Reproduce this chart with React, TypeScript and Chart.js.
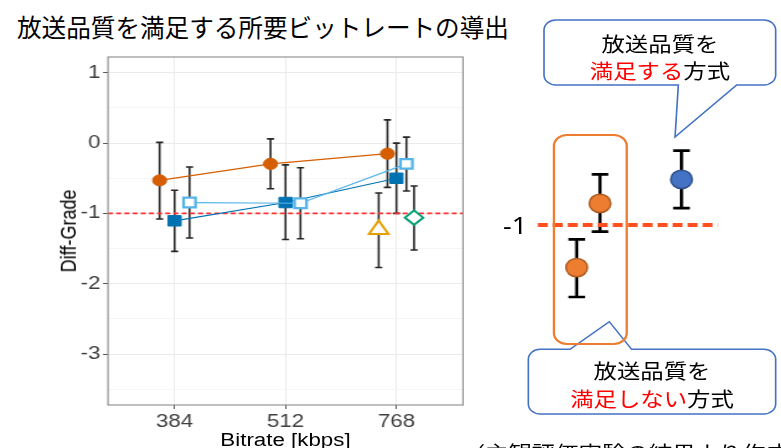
import React, { useEffect, useRef } from 'react';
import { Chart, registerables } from 'chart.js';

Chart.register(...registerables);

// ---------- data: main chart ----------
const CATEGORIES = ['384', '512', '768'];
const Y_TICKS = [-3.5, -3, -2.5, -2, -1.5, -1, -0.5, 0, 0.5, 1];
const Y_MIN = -3.725;
const Y_MAX = 1.225;
const THRESHOLD = -1;

// orange filled circles
const CIRCLE_MEAN = [-0.53, -0.295, -0.15];
const CIRCLE_LO = [-1.08, -0.65, -0.63];
const CIRCLE_HI = [0.01, 0.06, 0.33];
// dark blue filled squares
const FSQUARE_MEAN = [-1.105, -0.845, -0.5];
const FSQUARE_LO = [-1.54, -1.37, -1.0];
const FSQUARE_HI = [-0.67, -0.31, 0.0];
// light blue open squares
const OSQUARE_MEAN = [-0.845, -0.855, -0.295];
const OSQUARE_LO = [-1.35, -1.36, -0.68];
const OSQUARE_HI = [-0.34, -0.35, 0.085];
// yellow open triangle (768 only)
const TRIANGLE_MEAN = [null, null, -1.23];
const TRIANGLE_LO = [null, null, -1.77];
const TRIANGLE_HI = [null, null, -0.71];
// green open diamond (768 only)
const DIAMOND_MEAN = [null, null, -1.06];
const DIAMOND_LO = [null, null, -1.52];
const DIAMOND_HI = [null, null, -0.61];

// ---------- data: schematic ----------
const SCH_X = [1, 2, 5.5];
const SCH_MEAN = [-1.71, -0.64, -0.24];
const SCH_LO = [-2.2, -1.11, -0.72];
const SCH_HI = [-1.24, -0.155, 0.24];
const SCH_OK = [false, false, true];
const SCH_LINE_X = [-0.67, 7.06];

// ---------- layout / style (not data) ----------
const DODGE: Record<string, number[]> = {
  circle: [-0.135, -0.135, -0.081],
  fsquare: [0, 0, 0],
  osquare: [0.135, 0.135, 0.09],
  triangle: [0, 0, -0.16],
  diamond: [0, 0, 0.159],
};
const S1 = 1.24; // horizontal stretch of the chart picture
const S2 = 1.17; // horizontal stretch of the schematic
const W1 = 390;
const AREA = { left: 108 / S1, right: 463 / S1, top: 57, bottom: 405 };
const Y_W = 40;
const X_H = 30;
const TICK_FONT = "'Liberation Sans', Arial, sans-serif";
const JP_FONT = "'Noto Sans CJK JP', 'Noto Sans', sans-serif";

function pts(mean: (number | null)[], lo: (number | null)[], hi: (number | null)[], dodge: number[]) {
  const out: any[] = [];
  CATEGORIES.forEach((_, i) => {
    if (mean[i] == null) return;
    out.push({ x: i + 1 + dodge[i], y: mean[i], lo: lo[i], hi: hi[i] });
  });
  return out;
}

const errorBarPlugin = {
  id: 'errbars',
  beforeDatasetsDraw(chart: any) {
    const { ctx } = chart;
    chart.data.datasets.forEach((ds: any, i: number) => {
      if (!ds.errorBars) return;
      const meta = chart.getDatasetMeta(i);
      const xs = chart.scales[meta.xAxisID];
      const ys = chart.scales[meta.yAxisID];
      const eb = ds.errorBars;
      ctx.save();
      ctx.strokeStyle = eb.color;
      ctx.lineWidth = eb.width;
      ds.data.forEach((p: any) => {
        const x = xs.getPixelForValue(p.x);
        const y1 = ys.getPixelForValue(p.lo);
        const y2 = ys.getPixelForValue(p.hi);
        ctx.beginPath();
        ctx.moveTo(x, y1);
        ctx.lineTo(x, y2);
        ctx.moveTo(x - eb.cap, y1);
        ctx.lineTo(x + eb.cap, y1);
        ctx.moveTo(x - eb.cap, y2);
        ctx.lineTo(x + eb.cap, y2);
        ctx.stroke();
      });
      ctx.restore();
    });
  },
};

const borderPlugin = {
  id: 'panelBorder',
  afterDatasetsDraw(chart: any) {
    const { ctx, chartArea: a } = chart;
    ctx.save();
    ctx.strokeStyle = '#8a8a8a';
    ctx.lineWidth = 1.1;
    ctx.strokeRect(a.left, a.top, a.right - a.left, a.bottom - a.top);
    ctx.restore();
  },
};

export default function App() {
  const mainRef = useRef<HTMLCanvasElement>(null);
  const schRef = useRef<HTMLCanvasElement>(null);

  useEffect(() => {
    const eb = { color: '#262626', width: 1.6, cap: 2.9 };
    const c1 = new Chart(mainRef.current as HTMLCanvasElement, {
      type: 'scatter',
      data: {
        datasets: [
          {
            data: pts(DIAMOND_MEAN, DIAMOND_LO, DIAMOND_HI, DODGE.diamond),
            pointStyle: 'rectRot', pointRadius: 7.3, borderWidth: 2,
            borderColor: '#009E73', backgroundColor: '#ffffff', showLine: false,
            errorBars: eb,
          } as any,
          {
            data: pts(TRIANGLE_MEAN, TRIANGLE_LO, TRIANGLE_HI, DODGE.triangle),
            pointStyle: 'triangle', pointRadius: 9, borderWidth: 2,
            borderColor: '#E69F00', backgroundColor: '#ffffff', showLine: false,
            errorBars: eb,
          } as any,
          {
            data: pts(OSQUARE_MEAN, OSQUARE_LO, OSQUARE_HI, DODGE.osquare),
            pointStyle: 'rect', pointRadius: 6.8, pointBorderWidth: 2.3,
            pointBorderColor: '#56B4E9', pointBackgroundColor: '#ffffff',
            borderColor: '#56B4E9', borderWidth: 1.2, showLine: true,
            errorBars: eb,
          } as any,
          {
            data: pts(FSQUARE_MEAN, FSQUARE_LO, FSQUARE_HI, DODGE.fsquare),
            pointStyle: 'rect', pointRadius: 7.4, pointBorderWidth: 1,
            pointBorderColor: '#0072B2', pointBackgroundColor: '#0072B2',
            borderColor: '#0072B2', borderWidth: 1.2, showLine: true,
            errorBars: eb,
          } as any,
          {
            data: pts(CIRCLE_MEAN, CIRCLE_LO, CIRCLE_HI, DODGE.circle),
            pointStyle: 'circle', pointRadius: 5.6, pointBorderWidth: 1,
            pointBorderColor: '#D55E00', pointBackgroundColor: '#D55E00',
            borderColor: '#D55E00', borderWidth: 1.2, showLine: true,
            errorBars: eb,
          } as any,
          {
            data: [{ x: 0.4, y: THRESHOLD }, { x: CATEGORIES.length + 0.6, y: THRESHOLD }],
            pointRadius: 0, showLine: true, borderColor: '#FF2E2E',
            borderWidth: 1.7, borderDash: [4, 2.6],
          } as any,
        ],
      },
      options: {
        animation: false,
        responsive: false,
        devicePixelRatio: 1,
        layout: {
          autoPadding: false,
          padding: {
            left: AREA.left - Y_W,
            right: W1 - AREA.right,
            top: AREA.top,
            bottom: 448 - AREA.bottom - X_H,
          },
        },
        plugins: { legend: { display: false }, tooltip: { enabled: false } },
        scales: {
          x: {
            type: 'linear',
            min: 0.4,
            max: CATEGORIES.length + 0.6,
            afterBuildTicks: (s: any) => {
              s.ticks = CATEGORIES.map((_, i) => ({ value: i + 1 }));
            },
            afterFit: (s: any) => { s.height = X_H; },
            ticks: {
              autoSkip: false, maxRotation: 0, padding: 2,
              color: '#3F3F3F', font: { family: TICK_FONT, size: 18 },
              callback: (v: any) => CATEGORIES[Math.round(v) - 1] ?? '',
            },
            grid: { color: '#EBEBEB', lineWidth: 1, tickColor: '#555', tickLength: 4 },
            border: { display: false },
          },
          y: {
            type: 'linear',
            min: Y_MIN,
            max: Y_MAX,
            afterBuildTicks: (s: any) => {
              s.ticks = Y_TICKS.map((v) => ({ value: v }));
            },
            afterFit: (s: any) => { s.width = Y_W; },
            ticks: {
              autoSkip: false, padding: 2,
              color: '#3F3F3F', font: { family: TICK_FONT, size: 18 },
              callback: (v: any) => (Number.isInteger(v) ? String(v) : ''),
            },
            grid: {
              color: (c: any) => (Number.isInteger(c.tick?.value) ? '#EBEBEB' : '#F2F2F2'),
              lineWidth: (c: any) => (Number.isInteger(c.tick?.value) ? 1 : 0.8),
              tickColor: (c: any) => (Number.isInteger(c.tick?.value) ? '#555' : 'rgba(0,0,0,0)'),
              tickLength: 4,
            },
            border: { display: false },
          },
        },
      } as any,
      plugins: [errorBarPlugin, borderPlugin],
    });

    const schPts = (ok: boolean) =>
      SCH_X.map((x, i) => ({ x, y: SCH_MEAN[i], lo: SCH_LO[i], hi: SCH_HI[i], ok: SCH_OK[i] })).filter(
        (p) => p.ok === ok
      );
    const seb = { color: '#000000', width: 2.7, cap: 7.1 };
    const c2 = new Chart(schRef.current as HTMLCanvasElement, {
      type: 'scatter',
      data: {
        datasets: [
          {
            data: schPts(true), pointStyle: 'circle', pointRadius: 9.2, borderWidth: 1.5,
            backgroundColor: '#4472C4', borderColor: '#2F528F', showLine: false, errorBars: seb,
          } as any,
          {
            data: schPts(false), pointStyle: 'circle', pointRadius: 9.2, borderWidth: 1.5,
            backgroundColor: '#ED7D31', borderColor: '#AE5A21', showLine: false, errorBars: seb,
          } as any,
          {
            data: SCH_LINE_X.map((x) => ({ x, y: THRESHOLD })), pointRadius: 0, showLine: true,
            borderColor: '#FF4F1F', borderWidth: 4, borderDash: [8.5, 4.3],
          } as any,
        ],
      },
      options: {
        animation: false,
        responsive: false,
        devicePixelRatio: 1,
        layout: { autoPadding: false, padding: 0 },
        plugins: { legend: { display: false }, tooltip: { enabled: false } },
        scales: {
          x: { type: 'linear', display: false, min: -2.86, max: 9.7 },
          y: { type: 'linear', display: false, min: -2.75, max: 1.083 },
        },
      } as any,
      plugins: [errorBarPlugin],
    });

    return () => {
      c1.destroy();
      c2.destroy();
    };
  }, []);

  const r = 10;
  const top = { x1: 88.9, x2: 286.9, y1: 20, y2: 85 };
  const topPath =
    `M ${top.x1 + r} ${top.y1} H ${top.x2 - r} A ${r} ${r} 0 0 1 ${top.x2} ${top.y1 + r} ` +
    `V ${top.y2 - r} A ${r} ${r} 0 0 1 ${top.x2 - r} ${top.y2} H 253.6 L 200.9 137 L 203.7 ${top.y2} ` +
    `H ${top.x1 + r} A ${r} ${r} 0 0 1 ${top.x1} ${top.y2 - r} V ${top.y1 + r} A ${r} ${r} 0 0 1 ${top.x1 + r} ${top.y1} Z`;
  const bot = { x1: 75.5, x2: 286.9, y1: 349.3, y2: 414 };
  const botPath =
    `M ${bot.x1 + r} ${bot.y1} H 111.1 L 144.7 321.7 L 163.8 ${bot.y1} H ${bot.x2 - r} ` +
    `A ${r} ${r} 0 0 1 ${bot.x2} ${bot.y1 + r} V ${bot.y2 - r} A ${r} ${r} 0 0 1 ${bot.x2 - r} ${bot.y2} ` +
    `H ${bot.x1 + r} A ${r} ${r} 0 0 1 ${bot.x1} ${bot.y2 - r} V ${bot.y1 + r} A ${r} ${r} 0 0 1 ${bot.x1 + r} ${bot.y1} Z`;

  return (
    <div
      style={{
        position: 'fixed', left: 0, top: 0, width: 781, height: 448,
        background: '#ffffff', overflow: 'hidden', fontFamily: JP_FONT,
      }}
    >
      <div
        style={{
          position: 'absolute', left: 17, top: 13.8, fontSize: 24.6, lineHeight: '24.6px',
          color: '#000', whiteSpace: 'nowrap', fontFamily: JP_FONT,
        }}
      >
        放送品質を満足する所要ビットレートの導出
      </div>

      <div
        style={{
          position: 'absolute', left: 0, top: 0, width: W1, height: 448,
          transform: `scaleX(${S1})`, transformOrigin: '0 0',
        }}
      >
        <canvas ref={mainRef} width={W1} height={448} style={{ position: 'absolute', left: 0, top: 0 }} />
        <div
          style={{
            position: 'absolute', left: 54.6, top: (AREA.top + AREA.bottom) / 2,
            transform: 'translate(-50%, -50%) rotate(-90deg)', fontFamily: TICK_FONT,
            fontSize: 18, lineHeight: '18px', whiteSpace: 'nowrap', color: '#000',
          }}
        >
          Diff-Grade
        </div>
        <div
          style={{
            position: 'absolute', left: (AREA.left + AREA.right) / 2, top: 430.6,
            transform: 'translateX(-50%)', fontFamily: TICK_FONT, fontSize: 18,
            lineHeight: '18px', whiteSpace: 'nowrap', color: '#000',
          }}
        >
          Bitrate [kbps]
        </div>
      </div>

      <div
        style={{
          position: 'absolute', left: 440, top: 0, width: 300, height: 448,
          transform: `scaleX(${S2})`, transformOrigin: '0 0',
        }}
      >
        <canvas ref={schRef} width={250} height={230} style={{ position: 'absolute', left: 40, top: 100 }} />
        <svg width={300} height={448} style={{ position: 'absolute', left: 0, top: 0, overflow: 'visible' }}>
          <path d={topPath} fill="#ffffff" stroke="#4472C4" strokeWidth={1.4} />
          <path d={botPath} fill="#ffffff" stroke="#4472C4" strokeWidth={1.4} />
          <rect x={97.4} y={135} width={62.2} height={209} rx={11} ry={11} fill="none" stroke="#ED7D31" strokeWidth={2} />
          <g fontFamily={JP_FONT} fontSize={20} textAnchor="middle" dominantBaseline="central">
            <text x={188} y={43} fill="#000">放送品質を</text>
            <text x={188} y={70}>
              <tspan fill="#FF0000">満足する</tspan>
              <tspan fill="#000">方式</tspan>
            </text>
            <text x={181.2} y={370} fill="#000">放送品質を</text>
            <text x={181.2} y={398}>
              <tspan fill="#FF0000">満足しない</tspan>
              <tspan fill="#000">方式</tspan>
            </text>
          </g>
          <text
            x={74.4} y={225} textAnchor="end" dominantBaseline="central"
            fontFamily="'Noto Sans', sans-serif" fontSize={23} fill="#000"
          >
            -1
          </text>
        </svg>
        <div
          style={{
            position: 'absolute', left: 18.5, top: 443, fontSize: 20, lineHeight: '20px',
            whiteSpace: 'nowrap', color: '#000', fontFamily: JP_FONT,
          }}
        >
          （主観評価実験の結果より作成）
        </div>
      </div>
    </div>
  );
}
